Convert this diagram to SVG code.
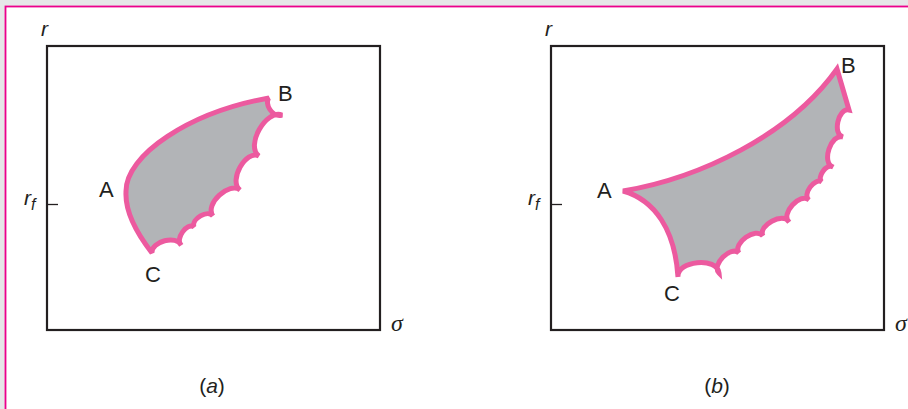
<svg xmlns="http://www.w3.org/2000/svg" width="908" height="409" viewBox="0 0 908 409">
<style>
.frame{fill:#ffffff;stroke:#ec008c;stroke-width:1.8}
.box{fill:none;stroke:#231f20;stroke-width:2.2}
.tick{stroke:#231f20;stroke-width:1.3}
.region{fill:#b2b4b7;stroke:#ec5a9f;stroke-width:5;stroke-linejoin:miter;stroke-miterlimit:3}
.pt{font-family:"Liberation Sans",Arial,sans-serif;font-size:22px;fill:#231f20}
.ax{font-family:"Liberation Sans",Arial,sans-serif;font-size:21px;font-style:italic;fill:#231f20}
.sig{font-family:"Liberation Serif","Times New Roman",serif;font-size:24px;font-style:italic;fill:#231f20}
.cap{font-family:"Liberation Sans",Arial,sans-serif;font-size:21px;fill:#231f20}
</style>
<rect x="0" y="0" width="908" height="409" fill="#e6e7e8"/>
<rect class="frame" x="5.5" y="6.5" width="920" height="420"/>

<g id="panel-a">
  <g id="axes-a">
    <rect class="box" x="47" y="46" width="333" height="284"/>
    <line class="tick" x1="48" y1="204.5" x2="58" y2="204.5"/>
    <text class="ax" x="41" y="36">r</text>
    <text class="ax" x="24" y="205">r<tspan font-size="16" dy="5">f</tspan></text>
    <text class="sig" x="391" y="331">σ</text>
  </g>
  <g id="region-a">
    <path class="region" d="M152 253 C138 235 125 212 126 192 C125 155 190 112 269 98 C264 103 272 118 282 115 C266 109 245 146 259 156 C246 149 228 181 240 190 C230 181 204 204 213 216 C208 209 191 219 194 227 C187 222 175 239 181 245 C177 235 151 241 152 253 Z"/>
  </g>
  <g id="label-a-A"><text class="pt" x="99" y="197">A</text></g>
  <g id="label-a-B"><text class="pt" x="278" y="101">B</text></g>
  <g id="label-a-C"><text class="pt" x="145" y="282">C</text></g>
  <text class="cap" x="212" y="393" text-anchor="middle">(<tspan font-style="italic">a</tspan>)</text>
</g>

<g id="panel-b">
  <g id="axes-b">
    <rect class="box" x="551" y="46" width="333" height="284"/>
    <line class="tick" x1="552" y1="204.5" x2="562" y2="204.5"/>
    <text class="ax" x="545" y="36">r</text>
    <text class="ax" x="528" y="205">r<tspan font-size="16" dy="5">f</tspan></text>
    <text class="sig" x="895" y="331">σ</text>
  </g>
  <g id="region-b">
    <path class="region" d="M623 191 C700 178 790 135 837 69 L849 110 C838.2 107.6 832.2 134.6 843 137 C831 133 821 163 833 167 C827 162.6 816 177.6 822 182 C814.8 176.8 801.8 194.8 809 200 C800.2 192 780.2 214 789 222 C783.4 211.6 757.4 225.6 763 236 C756.2 226.4 732.2 243.4 739 253 C731 245 711 265 719 273 C717.4 256.6 676.4 260.6 678 277 C675 230 655 200 623 191 Z"/>
  </g>
  <g id="label-b-A"><text class="pt" x="597" y="198">A</text></g>
  <g id="label-b-B"><text class="pt" x="841" y="73">B</text></g>
  <g id="label-b-C"><text class="pt" x="664" y="301">C</text></g>
  <text class="cap" x="717" y="393" text-anchor="middle">(<tspan font-style="italic">b</tspan>)</text>
</g>
</svg>
